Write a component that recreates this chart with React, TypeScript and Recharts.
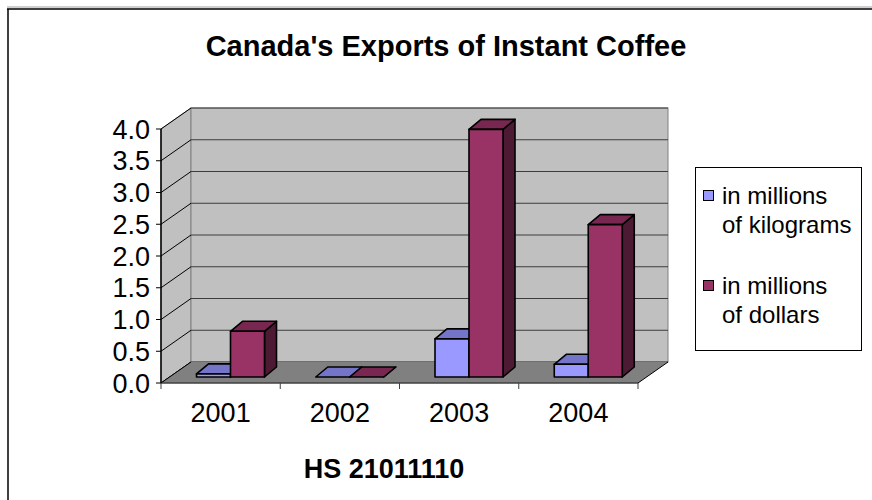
import React from 'react';
import * as R from 'recharts';
import { BarChart, Bar, XAxis, YAxis, Legend } from 'recharts';

const years = ['2001', '2002', '2003', '2004'];
const kilograms = [0.05, 0, 0.6, 0.2];
const dollars = [0.72, 0, 3.9, 2.4];
const valueTicks = [0, 0.5, 1, 1.5, 2, 2.5, 3, 3.5, 4];
const seriesNames = ['in millions of kilograms', 'in millions of dollars'];

const data = years.map((year, i) => ({ year, kg: kilograms[i], usd: dollars[i] }));

const FONT = 'Arial, "Liberation Sans", sans-serif';
const Y_MAX = 4;
// oblique "3D" offsets
const WALL = { dx: 30, dy: -21 };
const BAR_POS = { dx: 9.5, dy: -6 };
const BAR_DEPTH = { dx: 12, dy: -10 };

const KG_COLORS = { front: '#9999ff', top: '#7474c8', side: '#4d4d80' };
const USD_COLORS = { front: '#993366', top: '#782850', side: '#4d1a33' };

const usePlot =
  (R as any).usePlotArea ?? (() => ({ x: 161, y: 129, width: 477, height: 254 }));

function Walls() {
  const pa = usePlot();
  if (!pa) return null;
  const { x, y, width, height } = pa;
  const x2 = x + width;
  const y2 = y + height;
  const { dx, dy } = WALL;
  const yOf = (v: number) => y + height * (1 - v / Y_MAX);
  const band = width / years.length;
  const bounds = years.map((_, i) => x + band * i).concat([x2]);

  return (
    <g>
      {/* frame of the chart object */}
      <line x1={7} y1={7} x2={872} y2={7} stroke="#a0a0a0" strokeWidth={1} />
      <line x1={7} y1={9} x2={872} y2={9} stroke="#000" strokeWidth={1.5} />
      <line x1={8} y1={9} x2={8} y2={500} stroke="#000" strokeWidth={1.5} />

      <polygon
        points={`${x},${y} ${x + dx},${y + dy} ${x + dx},${y2 + dy} ${x},${y2}`}
        fill="#c0c0c0"
        stroke="#808080"
      />
      <rect x={x + dx} y={y + dy} width={width} height={height} fill="#c0c0c0" stroke="#808080" />
      {valueTicks.map((v) => (
        <g key={v}>
          <line x1={x + dx} y1={yOf(v) + dy} x2={x2 + dx} y2={yOf(v) + dy} stroke="#3c3c3c" />
          <line x1={x} y1={yOf(v)} x2={x + dx} y2={yOf(v) + dy} stroke="#000" />
        </g>
      ))}
      <polygon
        points={`${x},${y2} ${x2},${y2} ${x2 + dx},${y2 + dy} ${x + dx},${y2 + dy}`}
        fill="#808080"
      />
      <line x1={x2} y1={y2} x2={x2 + dx} y2={y2 + dy} stroke="#000" />
      <line x1={x} y1={y2} x2={x + dx} y2={y2 + dy} stroke="#000" />
      <line x1={x} y1={y2} x2={x2} y2={y2} stroke="#404040" strokeWidth={1.5} />
      {bounds.map((bx, i) => (
        <line key={i} x1={bx} y1={y2} x2={bx} y2={y2 + 6} stroke="#404040" />
      ))}
    </g>
  );
}

function Titles() {
  return (
    <g fontFamily={FONT} fontWeight="bold" fill="#000">
      <text x={446} y={56} fontSize={29} textAnchor="middle">
        Canada's Exports of Instant Coffee
      </text>
      <text x={384} y={478} fontSize={27} textAnchor="middle">
        HS 21011110
      </text>
    </g>
  );
}

function Box3D(props: any) {
  const { x, y, width, height, colors } = props;
  if (x == null || y == null) return null;
  const fx = x + BAR_POS.dx;
  const fy = y + BAR_POS.dy;
  const w = width;
  const h = Math.max(height, 0);
  const { dx, dy } = BAR_DEPTH;
  return (
    <g stroke="#000" strokeWidth={1.6} strokeLinejoin="round">
      <polygon
        points={`${fx + w},${fy} ${fx + w + dx},${fy + dy} ${fx + w + dx},${fy + h + dy} ${fx + w},${fy + h}`}
        fill={colors.side}
      />
      <polygon
        points={`${fx},${fy} ${fx + w},${fy} ${fx + w + dx},${fy + dy} ${fx + dx},${fy + dy}`}
        fill={colors.top}
      />
      <rect x={fx} y={fy} width={w} height={h} fill={colors.front} />
    </g>
  );
}

function LegendBox(props: any) {
  const payload = [...(props.payload || [])].sort(
    (a: any, b: any) => seriesNames.indexOf(a.value) - seriesNames.indexOf(b.value)
  );
  return (
    <div
      style={{
        position: 'relative',
        width: 167,
        height: 184,
        border: '1px solid #000',
        background: '#fff',
        boxSizing: 'border-box',
        fontFamily: FONT,
        fontSize: 24,
        lineHeight: '29px',
        color: '#000',
      }}
    >
      {payload.map((item: any, i: number) => (
        <div key={i}>
          <div
            style={{
              position: 'absolute',
              left: 7,
              top: 22 + i * 90,
              width: 11,
              height: 11,
              boxSizing: 'border-box',
              border: '1.5px solid #000',
              background: item.color,
            }}
          />
          <div
            style={{
              position: 'absolute',
              left: 26,
              top: 13 + i * 90,
              whiteSpace: 'pre',
            }}
          >
            {String(item.value).replace(' of ', '\nof ')}
          </div>
        </div>
      ))}
    </div>
  );
}

export default function App() {
  return (
    <div style={{ position: 'fixed', left: 0, top: 0, width: 872, height: 500, background: '#fff' }}>
      <BarChart
        width={872}
        height={500}
        data={data}
        margin={{ top: 129, right: 234, bottom: 87, left: 0 }}
        barSize={34}
        barGap={0}
      >
        <Walls />
        <XAxis
          dataKey="year"
          height={30}
          axisLine={false}
          tickLine={false}
          tickSize={6}
          tickMargin={14}
          tick={{ fontSize: 27, fill: '#000', fontFamily: FONT }}
        />
        <YAxis
          width={161}
          domain={[0, Y_MAX]}
          ticks={valueTicks}
          interval={0}
          tickFormatter={(v: number) => v.toFixed(1)}
          axisLine={{ stroke: '#000', strokeWidth: 1.5 }}
          tickLine={{ stroke: '#000' }}
          tickSize={5}
          tickMargin={6}
          tick={{ fontSize: 27, fill: '#000', fontFamily: FONT }}
        />
        <Bar
          dataKey="kg"
          name={seriesNames[0]}
          fill={KG_COLORS.front}
          isAnimationActive={false}
          shape={(p: any) => <Box3D {...p} colors={KG_COLORS} />}
        />
        <Bar
          dataKey="usd"
          name={seriesNames[1]}
          fill={USD_COLORS.front}
          isAnimationActive={false}
          shape={(p: any) => <Box3D {...p} colors={USD_COLORS} />}
        />
        <Legend
          layout="vertical"
          align="center"
          verticalAlign="middle"
          wrapperStyle={{ position: 'absolute', left: 695, top: 167, width: 167, height: 184 }}
          content={(p: any) => <LegendBox {...p} />}
        />
        <Titles />
      </BarChart>
    </div>
  );
}
